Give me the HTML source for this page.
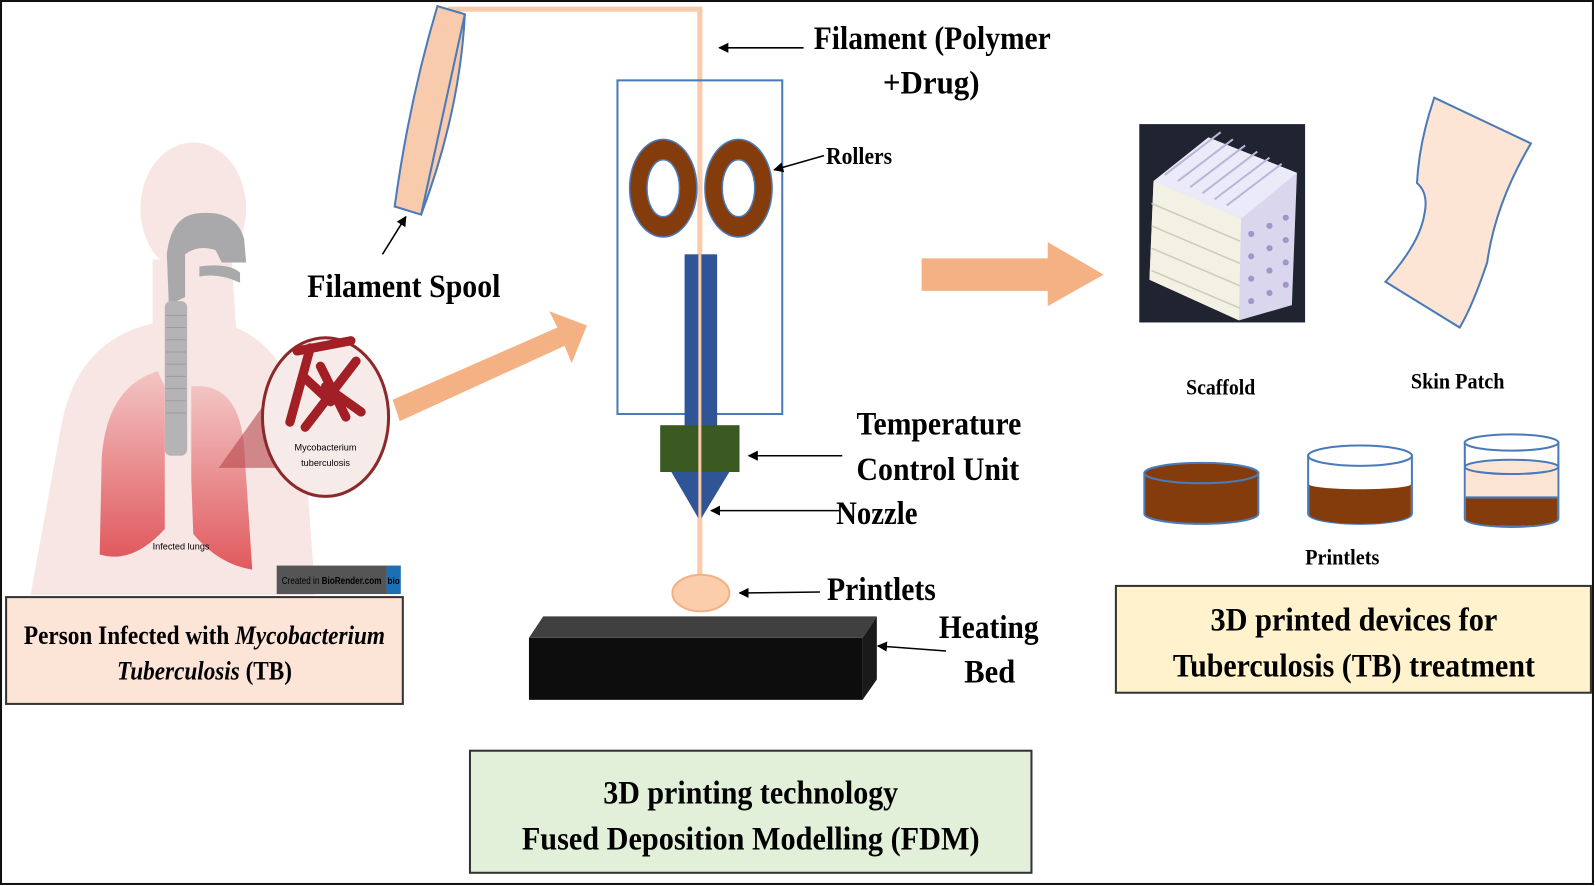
<!DOCTYPE html>
<html><head><meta charset="utf-8"><style>
html,body{margin:0;padding:0;background:#fff;}
svg{display:block;}
text{font-family:"Liberation Serif",serif;font-weight:bold;fill:#000;}
</style></head><body>
<svg width="1595" height="886" viewBox="0 0 1568 871" preserveAspectRatio="none" xmlns="http://www.w3.org/2000/svg">
<defs>
<marker id="ah" markerWidth="10" markerHeight="10" refX="9" refY="5" orient="auto" markerUnits="userSpaceOnUse"><path d="M0,0 L10,5 L0,10 Z" fill="#000"/></marker>
<linearGradient id="lung" x1="0" y1="0" x2="0" y2="1"><stop offset="0" stop-color="#f3c4c4"/><stop offset="1" stop-color="#e05a5e"/></linearGradient>
</defs>
<rect x="1" y="1" width="1565" height="868" fill="#fff" stroke="#111" stroke-width="2"/>

<!-- Person -->
<g>
<ellipse cx="190" cy="205" rx="52" ry="65" fill="#f8e6e5"/>
<path d="M150,255 L150,318 Q75,335 60,420 L30,585 L310,585 L298,420 Q285,345 232,322 L228,258 Z" fill="#f8e6e5"/>
<path d="M192,210 Q232,205 240,235 L242,258 L218,258 L212,246 Q195,240 182,250 L182,292 L166,300 L164,250 Q168,214 192,210Z" fill="#a9a9ab"/>
<path d="M196,262 Q225,258 236,268 L236,278 Q215,268 196,272Z" fill="#a9a9ab"/>
<rect x="162" y="296" width="22" height="152" rx="6" fill="#b4b4b6"/>
<g stroke="#9c9c9e" stroke-width="1">
<line x1="163" y1="310" x2="183" y2="310"/><line x1="163" y1="322" x2="183" y2="322"/><line x1="163" y1="334" x2="183" y2="334"/>
<line x1="163" y1="346" x2="183" y2="346"/><line x1="163" y1="358" x2="183" y2="358"/><line x1="163" y1="370" x2="183" y2="370"/>
<line x1="163" y1="382" x2="183" y2="382"/><line x1="163" y1="394" x2="183" y2="394"/><line x1="163" y1="406" x2="183" y2="406"/>
</g>
<path d="M155,365 Q105,380 100,450 L98,545 Q130,555 162,520 L162,380 Z" fill="url(#lung)"/>
<path d="M188,380 Q235,375 240,440 L248,560 Q215,555 190,525 L188,470 Z" fill="url(#lung)"/>
<text x="150" y="540" style="font-family:'Liberation Sans',sans-serif;font-weight:normal;font-size:9px" fill="#333">Infected lungs</text>
<path d="M215,460 L285,362 L285,460 Z" fill="#b5484c" opacity="0.6"/>
<ellipse cx="320" cy="410" rx="62" ry="78" fill="#f7ebe9" stroke="#8b2a2a" stroke-width="3"/>
<g stroke="#a11f25" stroke-width="9" stroke-linecap="round">
<line x1="292" y1="345" x2="345" y2="335"/>
<line x1="305" y1="342" x2="285" y2="415"/>
<line x1="315" y1="360" x2="340" y2="410"/>
<line x1="350" y1="355" x2="300" y2="420"/>
<line x1="320" y1="380" x2="355" y2="405"/>
<line x1="298" y1="370" x2="325" y2="395"/>
</g>
<text x="320" y="443" text-anchor="middle" style="font-family:'Liberation Sans',sans-serif;font-weight:normal;font-size:9px" fill="#333">Mycobacterium</text>
<text x="320" y="458" text-anchor="middle" style="font-family:'Liberation Sans',sans-serif;font-weight:normal;font-size:9px" fill="#333">tuberculosis</text>
<rect x="272" y="556" width="108" height="28" fill="#555"/>
<rect x="380" y="556" width="14" height="28" fill="#1b6fb5"/>
<text x="277" y="574" style="font-family:'Liberation Sans',sans-serif;font-weight:normal;font-size:10px" fill="#fff" textLength="98" lengthAdjust="spacingAndGlyphs">Created in <tspan font-weight="bold">BioRender.com</tspan></text>
<text x="381" y="574" style="font-family:'Liberation Sans',sans-serif;font-size:9px" fill="#fff" textLength="12" lengthAdjust="spacingAndGlyphs">bio</text>
</g>
<rect x="6" y="587" width="390" height="105" fill="#fce4d6" stroke="#333" stroke-width="2"/>
<text x="201" y="633" text-anchor="middle" font-size="26" textLength="355" lengthAdjust="spacingAndGlyphs">Person Infected with <tspan font-style="italic">Mycobacterium</tspan></text>
<text x="201" y="668" text-anchor="middle" font-size="26" textLength="172" lengthAdjust="spacingAndGlyphs"><tspan font-style="italic">Tuberculosis</tspan> (TB)</text>

<!-- filament path -->
<polyline points="440,9 688,9 688,568" fill="none" stroke="#f8cbad" stroke-width="5"/>
<!-- spool -->
<path d="M430,6 L457,14 Q452,110 414,211 L388,203 Q402,100 430,6 Z" fill="#f8cbad" stroke="#4a7ab8" stroke-width="2"/>
<path d="M457,14 Q436,110 414,211" fill="none" stroke="#4a7ab8" stroke-width="2"/>
<line x1="376" y1="250" x2="399" y2="213" stroke="#000" stroke-width="1.5" marker-end="url(#ah)"/>
<text x="302" y="292" font-size="32" textLength="190" lengthAdjust="spacingAndGlyphs">Filament Spool</text>

<!-- printer frame -->
<rect x="607" y="79" width="162" height="328" fill="none" stroke="#4a7ab8" stroke-width="2"/>
<ellipse cx="652" cy="185" rx="33" ry="48" fill="#843c0c" stroke="#4a7ab8" stroke-width="1.5"/>
<ellipse cx="652" cy="185" rx="16" ry="28" fill="#fff" stroke="#4a7ab8" stroke-width="1.5"/>
<ellipse cx="726" cy="185" rx="33" ry="48" fill="#843c0c" stroke="#4a7ab8" stroke-width="1.5"/>
<ellipse cx="726" cy="185" rx="16" ry="28" fill="#fff" stroke="#4a7ab8" stroke-width="1.5"/>
<rect x="673" y="250" width="32" height="170" fill="#2f5597"/>
<rect x="649" y="418" width="78" height="46" fill="#3a5a22"/>
<path d="M660,464 L717,464 L688,512 Z" fill="#2f5597"/>
<line x1="688" y1="250" x2="688" y2="566" stroke="#f8cbad" stroke-width="3"/>
<ellipse cx="689" cy="583" rx="28" ry="18" fill="#fbcdab" stroke="#f4b183" stroke-width="2"/>
<!-- bed -->
<path d="M534,606 L862,606 L848,627 L520,627 Z" fill="#404040"/>
<rect x="520" y="627" width="328" height="61" fill="#0d0d0d"/>
<path d="M848,627 L862,606 L862,668 L848,688 Z" fill="#1a1a1a"/>

<!-- labels -->
<line x1="790" y1="47" x2="707" y2="47" stroke="#000" stroke-width="1.5" marker-end="url(#ah)"/>
<text x="800" y="48" font-size="32" textLength="233" lengthAdjust="spacingAndGlyphs">Filament (Polymer</text>
<text x="868" y="92" font-size="32" textLength="95" lengthAdjust="spacingAndGlyphs">+Drug)</text>
<line x1="810" y1="153" x2="761" y2="167" stroke="#000" stroke-width="1.5" marker-end="url(#ah)"/>
<text x="812" y="161" font-size="24" textLength="65" lengthAdjust="spacingAndGlyphs">Rollers</text>
<text x="842" y="427" font-size="32" textLength="162" lengthAdjust="spacingAndGlyphs">Temperature</text>
<text x="842" y="472" font-size="32" textLength="160" lengthAdjust="spacingAndGlyphs">Control Unit</text>
<line x1="828" y1="448" x2="736" y2="448" stroke="#000" stroke-width="1.5" marker-end="url(#ah)"/>
<line x1="825" y1="502" x2="699" y2="502" stroke="#000" stroke-width="1.5" marker-end="url(#ah)"/>
<text x="822" y="515" font-size="32" textLength="80" lengthAdjust="spacingAndGlyphs">Nozzle</text>
<line x1="806" y1="582" x2="727" y2="583" stroke="#000" stroke-width="1.5" marker-end="url(#ah)"/>
<text x="813" y="590" font-size="32" textLength="107" lengthAdjust="spacingAndGlyphs">Printlets</text>
<text x="923" y="627" font-size="32" textLength="98" lengthAdjust="spacingAndGlyphs">Heating</text>
<text x="948" y="671" font-size="32" textLength="50" lengthAdjust="spacingAndGlyphs">Bed</text>
<line x1="930" y1="640" x2="863" y2="635" stroke="#000" stroke-width="1.5" marker-end="url(#ah)"/>

<!-- big arrows -->
<path d="M386,393 L548,322 L540,306 L577,320 L562,357 L555,340 L393,414 Z" fill="#f4b183"/>
<path d="M906,254 L1030,254 L1030,238 L1085,270 L1030,301 L1030,286 L906,286 Z" fill="#f4b183"/>

<!-- scaffold -->
<rect x="1120" y="122" width="163" height="195" fill="#1f2430"/>
<g>
<path d="M1134,178 L1188,135 L1275,170 L1270,300 L1218,315 L1130,275 Z" fill="#d9d6ee"/>
<path d="M1134,178 L1188,135 L1275,170 L1220,215 Z" fill="#ebeaf8"/>
<path d="M1134,178 L1220,215 L1218,315 L1130,275 Z" fill="#f2f1e4"/>
<g stroke="#b9b6d8" stroke-width="2">
<line x1="1145" y1="172" x2="1200" y2="130"/><line x1="1158" y1="178" x2="1212" y2="137"/>
<line x1="1170" y1="184" x2="1224" y2="143"/><line x1="1182" y1="190" x2="1236" y2="149"/>
<line x1="1194" y1="196" x2="1248" y2="155"/><line x1="1206" y1="202" x2="1260" y2="161"/>
</g>
<g fill="#9c98c8">
<circle cx="1230" cy="230" r="3"/><circle cx="1248" cy="222" r="3"/><circle cx="1264" cy="214" r="3"/>
<circle cx="1230" cy="252" r="3"/><circle cx="1248" cy="244" r="3"/><circle cx="1264" cy="236" r="3"/>
<circle cx="1230" cy="274" r="3"/><circle cx="1248" cy="266" r="3"/><circle cx="1264" cy="258" r="3"/>
<circle cx="1230" cy="296" r="3"/><circle cx="1248" cy="288" r="3"/><circle cx="1264" cy="280" r="3"/>
</g>
<g stroke="#cfcbb8" stroke-width="1.5">
<line x1="1132" y1="200" x2="1219" y2="237"/><line x1="1132" y1="222" x2="1219" y2="259"/>
<line x1="1132" y1="244" x2="1219" y2="281"/><line x1="1132" y1="266" x2="1219" y2="303"/>
</g>
</g>
<!-- skin patch -->
<path d="M1410,96 L1505,141 Q1470,200 1462,258 Q1448,300 1435,322 L1362,277 Q1395,240 1400,212 Q1405,190 1393,180 Q1395,140 1410,96 Z" fill="#fde5d5" stroke="#4a7ab8" stroke-width="2"/>
<text x="1166" y="388" font-size="22" textLength="68" lengthAdjust="spacingAndGlyphs">Scaffold</text>
<text x="1387" y="382" font-size="22" textLength="92" lengthAdjust="spacingAndGlyphs">Skin Patch</text>

<!-- printlets -->
<path d="M1125,465 L1125,505 A56,10 0 0 0 1237,505 L1237,465 Z" fill="#843c0c" stroke="#4a7ab8" stroke-width="2"/>
<ellipse cx="1181" cy="465" rx="56" ry="10" fill="#843c0c" stroke="#4a7ab8" stroke-width="2"/>
<path d="M1286,448 L1286,505 A51,10 0 0 0 1388,505 L1388,448 Z" fill="#fff" stroke="#4a7ab8" stroke-width="2"/>
<path d="M1287,476 A50,5 0 0 0 1387,476 L1387,505 A50,10 0 0 1 1287,505 Z" fill="#843c0c"/>
<ellipse cx="1337" cy="448" rx="51" ry="10" fill="#fff" stroke="#4a7ab8" stroke-width="2"/>
<path d="M1440,435 L1440,510 A46,8 0 0 0 1532,510 L1532,435 Z" fill="#fff" stroke="#4a7ab8" stroke-width="2"/>
<rect x="1441" y="459" width="90" height="30" fill="#fde5d5"/>
<path d="M1441,489 L1531,489 L1531,510 A45,7 0 0 1 1441,510 Z" fill="#843c0c"/>
<ellipse cx="1486" cy="459" rx="46" ry="7" fill="#fde5d5" stroke="#4a7ab8" stroke-width="2"/>
<ellipse cx="1486" cy="435" rx="46" ry="8" fill="#fff" stroke="#4a7ab8" stroke-width="2"/>
<line x1="1441" y1="489" x2="1531" y2="489" stroke="#4a7ab8" stroke-width="2"/>
<text x="1283" y="555" font-size="22" textLength="73" lengthAdjust="spacingAndGlyphs">Printlets</text>

<!-- boxes -->
<rect x="1097" y="576" width="467" height="105" fill="#fff2cc" stroke="#333" stroke-width="2"/>
<text x="1331" y="620" text-anchor="middle" font-size="32" textLength="282" lengthAdjust="spacingAndGlyphs">3D printed devices for</text>
<text x="1331" y="665" text-anchor="middle" font-size="32" textLength="356" lengthAdjust="spacingAndGlyphs">Tuberculosis (TB) treatment</text>
<rect x="462" y="738" width="552" height="120" fill="#e2f0d9" stroke="#333" stroke-width="2"/>
<text x="738" y="790" text-anchor="middle" font-size="32" textLength="290" lengthAdjust="spacingAndGlyphs">3D printing technology</text>
<text x="738" y="835" text-anchor="middle" font-size="32" textLength="450" lengthAdjust="spacingAndGlyphs">Fused Deposition Modelling (FDM)</text>
</svg>
</body></html>
